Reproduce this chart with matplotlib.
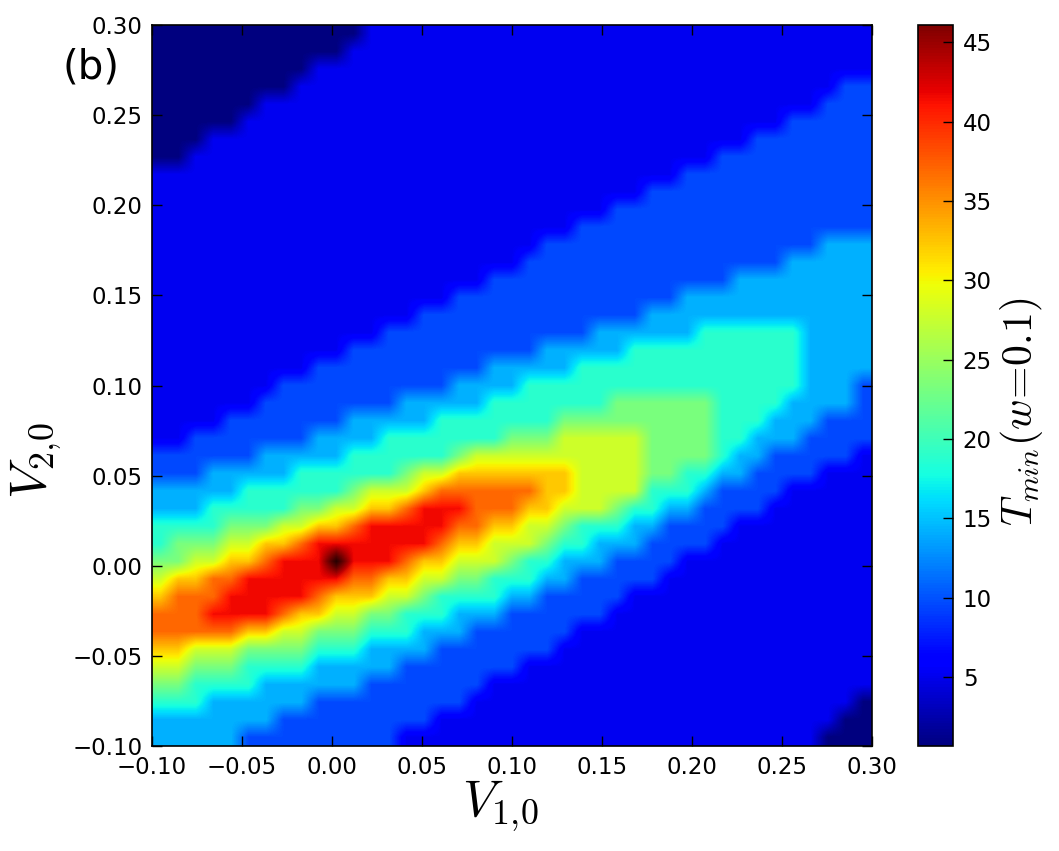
import numpy as np
import matplotlib
matplotlib.use("Agg")
import matplotlib.pyplot as plt
from matplotlib.ticker import FuncFormatter

# ---------------- data ----------------
V1_LIMITS = (-0.10, 0.30)
V2_LIMITS = (-0.10, 0.30)
X_TICKS = [-0.10, -0.05, 0.00, 0.05, 0.10, 0.15, 0.20, 0.25, 0.30]
Y_TICKS = [-0.10, -0.05, 0.00, 0.05, 0.10, 0.15, 0.20, 0.25, 0.30]
CB_TICKS = [5, 10, 15, 20, 25, 30, 35, 40, 45]
CB_LIMITS = (0.66, 46.1)

# T_min values of the discrete plateaus seen in the picture (index 0..10)
LEVEL_VALUES = [0.7, 5.2, 9.7, 14.3, 18.8, 23.3, 27.9, 32.4, 36.9, 41.5, 46.0]

# 41 x 41 grid, rows from V2 = 0.30 (top) to V2 = -0.10 (bottom),
# each row written as runs "level x count" from V1 = -0.10 to 0.30
ROWS = [
    "0x12 1x29",
    "0x11 1x30",
    "0x9 1x32",
    "0x8 1x31 2x2",
    "0x6 1x32 2x3",
    "0x5 1x31 2x5",
    "0x3 1x31 2x7",
    "0x2 1x30 2x9",
    "1x30 2x11",
    "1x28 2x13",
    "1x26 2x15",
    "1x24 2x17",
    "1x22 2x16 3x3",
    "1x21 2x15 3x5",
    "1x19 2x14 3x8",
    "1x17 2x13 3x11",
    "1x15 2x13 3x13",
    "1x13 2x12 3x6 4x6 3x4",
    "1x11 2x11 3x5 4x10 3x4",
    "1x9 2x10 3x5 4x13 3x4",
    "1x7 2x10 3x4 4x16 3x3 2x1",
    "1x6 2x8 3x5 4x7 5x6 4x4 3x4 2x1",
    "1x4 2x7 3x5 4x7 5x9 4x3 3x3 2x3",
    "1x2 2x7 3x4 4x7 5x3 6x5 5x4 4x2 3x3 2x4",
    "2x6 3x5 4x6 5x1 6x10 5x4 4x1 3x2 2x5 1x1",
    "2x3 3x5 4x6 5x1 6x2 7x7 6x4 5x2 4x2 3x2 2x4 1x3",
    "3x5 4x6 5x1 6x3 7x1 8x6 7x2 6x4 4x3 3x1 2x4 1x5",
    "3x3 4x5 5x2 6x2 7x2 8x1 9x3 8x3 7x2 6x3 5x1 4x2 3x2 2x4 1x6",
    "4x4 5x3 6x2 7x2 8x1 9x5 8x2 7x2 6x2 5x1 4x3 3x2 2x4 1x8",
    "4x1 5x3 6x2 7x2 8x1 9x7 8x1 7x2 6x3 5x1 4x2 3x3 2x4 1x9",
    "5x2 6x2 7x2 8x1 9x3 10x1 9x3 8x1 7x2 6x3 5x1 4x2 3x3 2x4 1x11",
    "6x1 7x2 8x2 9x6 8x2 7x2 6x2 5x2 4x3 3x2 2x5 1x12",
    "7x1 8x3 9x5 8x1 7x3 6x2 5x1 4x4 3x2 2x5 1x14",
    "8x3 9x4 8x1 7x2 6x2 5x2 4x3 3x3 2x6 1x15",
    "8x5 7x2 6x2 5x3 4x3 3x3 2x6 1x17",
    "7x2 6x3 5x4 4x3 3x4 2x7 1x18",
    "6x2 5x3 4x4 3x5 2x7 1x20",
    "5x2 4x4 3x6 2x7 1x22",
    "4x3 3x6 2x9 1x22 0x1",
    "3x7 2x9 1x23 0x2",
    "3x5 2x9 1x24 0x3",
]


def decode(rows, values):
    grid = []
    for r in rows:
        line = []
        for tok in r.split():
            lev, cnt = tok.split("x")
            line += [values[int(lev)]] * int(cnt)
        assert len(line) == 41, (r, len(line))
        grid.append(line)
    return np.array(grid)


Z = decode(ROWS, LEVEL_VALUES)

# ---------------- style ----------------
plt.rcParams["font.family"] = ["DejaVu Sans"]
plt.rcParams["mathtext.fontset"] = "cm"

W, H = 1059, 851
fig = plt.figure(figsize=(W / 100, H / 100), dpi=100, facecolor="white")
ax = fig.add_axes([152 / W, 1 - 746 / H, 720 / W, 721 / H])

extent = [V1_LIMITS[0], V1_LIMITS[1], V2_LIMITS[0], V2_LIMITS[1]]
im = ax.imshow(Z, origin="upper", cmap="jet", interpolation="bilinear",
               interpolation_stage="data", extent=extent,
               vmin=CB_LIMITS[0], vmax=CB_LIMITS[1], aspect="auto")

# darkened peak cell (the near-black spot at the maximum)
peak = np.zeros(Z.shape + (4,))
peak[Z == Z.max()] = (0.0, 0.0, 0.0, 0.7)
ax.imshow(peak, origin="upper", interpolation="bilinear",
          interpolation_stage="rgba", extent=extent, aspect="auto")

ax.set_xlim(*V1_LIMITS)
ax.set_ylim(*V2_LIMITS)

fmt = FuncFormatter(lambda v, p: ("%.2f" % v).replace("-", "\u2212"))
ax.set_xticks(X_TICKS)
ax.set_yticks(Y_TICKS)
ax.xaxis.set_major_formatter(fmt)
ax.yaxis.set_major_formatter(fmt)
ax.tick_params(direction="in", top=True, right=True, length=7, width=1,
               labelsize=16.5, pad=7)
for s in ax.spines.values():
    s.set_linewidth(1.2)

ax.set_xlabel(r"$V_{1,\!0}$", fontsize=37)
ax.set_ylabel(r"$V_{2,\!0}$", fontsize=37)
ax.xaxis.set_label_coords(0.485, -0.046)
ax.yaxis.set_label_coords(-0.122, 0.396)

cax = fig.add_axes([918 / W, 1 - 746 / H, 35 / W, 721 / H])
cb = fig.colorbar(im, cax=cax, ticks=CB_TICKS)
cb.ax.tick_params(direction="in", length=7, width=1, labelsize=16.5, pad=7)
cb.outline.set_linewidth(1.2)
cb.set_label(r"$T_{min}(w\!=\!0.1)$", fontsize=30)
cb.ax.yaxis.set_label_coords(2.3, 0.463)

fig.text(0.086, 0.921, "(b)", fontsize=29, ha="center", va="center")

fig.savefig("out.png", dpi=100, facecolor="white")
